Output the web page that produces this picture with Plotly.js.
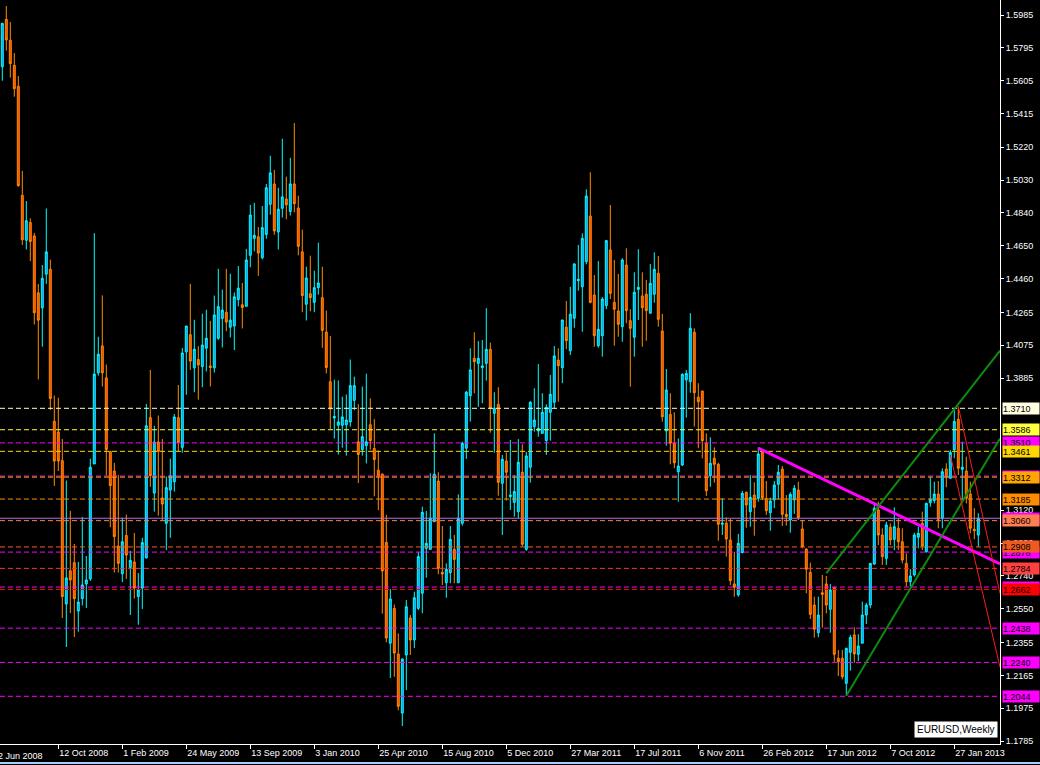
<!DOCTYPE html>
<html><head><meta charset="utf-8">
<script src="https://cdn.plot.ly/plotly-3.0.1.min.js"></script>
<style>html,body{margin:0;padding:0;background:#000;overflow:hidden}#chart{width:1040px;height:765px}</style>
</head><body><div id="chart"></div>
<script>
// EURUSD weekly candles, first week 6 Jul 2008
const firstWeekUTC = Date.UTC(2008, 6, 6);
const openP = [1.5686,1.5960,1.5839,1.5694,1.5573,1.4942,1.4682,1.4785,1.4707,1.4378,
1.4291,1.4486,1.4514,1.3635,1.3573,1.3407,1.2578,1.2770,1.2817,1.2537,
1.2609,1.2694,1.2723,1.3388,1.3915,1.4071,1.3886,1.3460,1.3347,1.2913,
1.2753,1.2974,1.2789,1.2821,1.2621,1.2670,1.2844,1.3656,1.3220,1.3515,
1.3191,1.3045,1.3237,1.3285,1.3656,1.3484,1.4036,1.4136,1.3944,1.3992,
1.3951,1.4058,1.3955,1.3944,1.4115,1.4230,1.4266,1.4179,1.4186,1.4339,
1.4309,1.4300,1.4595,1.4693,1.4702,1.4581,1.4716,1.4890,1.5008,1.4730,
1.4867,1.4921,1.4849,1.5008,1.4869,1.4615,1.4312,1.4373,1.4323,1.4408,
1.4350,1.4151,1.3864,1.3654,1.3612,1.3612,1.3615,1.3631,1.3756,1.3516,
1.3471,1.3494,1.3615,1.3477,1.3352,1.3329,1.2934,1.2351,1.2552,1.2288,
1.1947,1.2283,1.2497,1.2370,1.2553,1.2640,1.2900,1.2894,1.3054,1.3289,
1.2761,1.2701,1.2759,1.2894,1.2701,1.3045,1.3479,1.3783,1.3999,1.3970,
1.3945,1.3970,1.4051,1.3681,1.3733,1.3276,1.3405,1.3199,1.3166,1.3112,
1.3340,1.2894,1.3369,1.3604,1.3579,1.3565,1.3523,1.3687,1.3745,1.3989,
1.3945,1.4179,1.4043,1.4231,1.4448,1.4413,1.4558,1.4822,1.4365,1.4072,
1.4130,1.4304,1.4626,1.4323,1.4273,1.4182,1.4539,1.4217,1.4121,1.4398,
1.4360,1.4370,1.4260,1.4370,1.4491,1.4157,1.3579,1.3675,1.3508,1.3343,
1.3382,1.3874,1.3864,1.4150,1.3774,1.3810,1.3508,1.3320,1.3421,1.3386,
1.3039,1.3045,1.2948,1.2694,1.2630,1.2875,1.3224,1.3112,1.3208,1.3189,
1.3459,1.3189,1.3106,1.3180,1.3270,1.3359,1.3097,1.3064,1.3180,1.3237,
1.3012,1.2896,1.2761,1.2572,1.2412,1.2643,1.2694,1.2547,1.2675,1.2264,
1.2264,1.2119,1.2298,1.2399,1.2287,1.2351,1.2514,1.2572,1.2809,1.3122,
1.2977,1.2842,1.3022,1.2952,1.3016,1.2938,1.2813,1.2707,1.2746,1.2964,
1.3045,1.2880,1.3164,1.3176,1.3214,1.3074,1.3359,1.3305,1.3469,1.3646,
1.3357,1.3347,1.3214,1.3010,1.2977];
const highP = [1.5939,1.6037,1.5945,1.5765,1.5632,1.5083,1.4909,1.4809,1.4725,1.4429,
1.4539,1.4866,1.4570,1.3784,1.3771,1.3532,1.3292,1.3117,1.2925,1.2821,
1.3081,1.2856,1.3419,1.4723,1.4124,1.4363,1.3963,1.3465,1.3394,1.3324,
1.3077,1.3096,1.2885,1.2989,1.2757,1.2961,1.3735,1.3932,1.3609,1.3668,
1.3532,1.3316,1.3419,1.3677,1.3845,1.4059,1.4186,1.4430,1.4222,1.4070,
1.4257,1.4280,1.4216,1.4362,1.4517,1.4396,1.4517,1.4488,1.4380,1.4533,
1.4435,1.4632,1.4887,1.4899,1.4759,1.4880,1.5008,1.5171,1.5089,1.4986,
1.5269,1.5050,1.5159,1.5360,1.4940,1.4743,1.4529,1.4593,1.4506,1.4668,
1.4529,1.4275,1.4129,1.3875,1.3871,1.3777,1.3790,1.3992,1.3893,1.3734,
1.3836,1.3910,1.3768,1.3647,1.3466,1.3334,1.3094,1.2665,1.2575,1.2408,
1.2260,1.2601,1.2514,1.2649,1.2880,1.3141,1.3116,1.3334,1.3565,1.3340,
1.3029,1.2813,1.3029,1.2977,1.3212,1.3517,1.3810,1.4057,1.4150,1.4099,
1.4105,1.4289,1.4090,1.3803,1.3832,1.3440,1.3455,1.3527,1.3324,1.3532,
1.3502,1.3459,1.3752,1.3826,1.3966,1.3797,1.3733,1.3903,1.4070,1.4057,
1.4221,1.4331,1.4413,1.4549,1.4655,1.4722,1.4977,1.5075,1.4481,1.4562,
1.4354,1.4684,1.4886,1.4568,1.4487,1.4578,1.4636,1.4283,1.4497,1.4630,
1.4497,1.4452,1.4545,1.4612,1.4591,1.4256,1.3937,1.3797,1.3687,1.3536,
1.3912,1.3932,1.4260,1.4173,1.3855,1.3810,1.3565,1.3542,1.3484,1.3395,
1.3189,1.3079,1.3070,1.2880,1.2983,1.3232,1.3228,1.3324,1.3282,1.3484,
1.3469,1.3289,1.3193,1.3289,1.3382,1.3376,1.3208,1.3224,1.3266,1.3285,
1.3064,1.2900,1.2817,1.2620,1.2620,1.2746,1.2740,1.2694,1.2675,1.2312,
1.2312,1.2322,1.2399,1.2443,1.2403,1.2591,1.2585,1.2813,1.3151,1.3170,
1.3016,1.3054,1.3045,1.3137,1.3074,1.3016,1.2871,1.2780,1.2990,1.3025,
1.3112,1.3164,1.3311,1.3285,1.3289,1.3363,1.3392,1.3469,1.3700,1.3720,
1.3517,1.3430,1.3285,1.3132,1.3103];
const lowP = [1.5605,1.5779,1.5623,1.5513,1.4992,1.4655,1.4629,1.4562,1.4195,1.3877,
1.4066,1.4430,1.3700,1.3261,1.3347,1.2497,1.2329,1.2526,1.2387,1.2418,
1.2569,1.2555,1.2711,1.3388,1.3899,1.3836,1.3321,1.3022,1.2760,1.2760,
1.2705,1.2723,1.2514,1.2609,1.2458,1.2549,1.2844,1.3256,1.3112,1.3089,
1.3058,1.2890,1.2961,1.3228,1.3460,1.3453,1.3788,1.3932,1.3803,1.3760,
1.3832,1.3923,1.3836,1.3917,1.4106,1.4062,1.4156,1.4120,1.4047,1.4300,
1.4172,1.4300,1.4526,1.4618,1.4476,1.4572,1.4691,1.4830,1.4714,1.4629,
1.4814,1.4803,1.4825,1.4844,1.4595,1.4266,1.4218,1.4271,1.4266,1.4367,
1.4060,1.3912,1.3590,1.3535,1.3443,1.3482,1.3436,1.3604,1.3699,1.3277,
1.3436,1.3391,1.3471,1.3201,1.3121,1.2522,1.2356,1.2150,1.2157,1.1963,
1.1872,1.2080,1.2283,1.2323,1.2543,1.2524,1.2730,1.2894,1.3054,1.2750,
1.2688,1.2614,1.2698,1.2698,1.2701,1.3031,1.3417,1.3633,1.3797,1.3719,
1.3739,1.3870,1.3569,1.3453,1.3204,1.2977,1.3176,1.3122,1.3083,1.3074,
1.2909,1.2886,1.3280,1.3575,1.3546,1.3565,1.3440,1.3523,1.3710,1.3748,
1.3855,1.4053,1.4018,1.4176,1.4390,1.4153,1.4543,1.4317,1.4066,1.4061,
1.4009,1.4283,1.4342,1.4072,1.4124,1.4095,1.4202,1.3835,1.4009,1.4221,
1.4066,1.4101,1.4260,1.4321,1.4182,1.3633,1.3494,1.3386,1.3363,1.3170,
1.3376,1.3656,1.3800,1.3604,1.3479,1.3421,1.3203,1.3256,1.3280,1.2944,
1.2977,1.2852,1.2688,1.2620,1.2620,1.2871,1.3019,1.3025,1.2973,1.3170,
1.3180,1.3093,1.3002,1.3132,1.3184,1.3029,1.3031,1.2990,1.3099,1.3064,
1.2900,1.2640,1.2491,1.2383,1.2385,1.2441,1.2524,1.2412,1.2244,1.2161,
1.2142,1.2047,1.2192,1.2238,1.2248,1.2351,1.2462,1.2553,1.2804,1.2919,
1.2804,1.2804,1.2919,1.2890,1.2890,1.2813,1.2678,1.2678,1.2736,1.2900,
1.2890,1.2875,1.3141,1.3160,1.3016,1.3016,1.3253,1.3305,1.3421,1.3324,
1.3170,1.3160,1.2987,1.2952,1.2909];
const closeP = [1.5937,1.5841,1.5704,1.5559,1.4998,1.4685,1.4795,1.4675,1.4263,1.4220,
1.4462,1.4615,1.3767,1.3405,1.3405,1.2621,1.2729,1.2717,1.2609,1.2589,
1.2688,1.2717,1.3369,1.3908,1.4023,1.3915,1.3472,1.3263,1.2968,1.2813,
1.2938,1.2861,1.2830,1.2670,1.2659,1.2933,1.3609,1.3321,1.3515,1.3460,
1.3156,1.3251,1.3321,1.3660,1.3513,1.4030,1.4186,1.3983,1.4052,1.3961,
1.4076,1.4115,1.3946,1.4250,1.4298,1.4278,1.4209,1.4220,1.4355,1.4405,
1.4293,1.4568,1.4828,1.4711,1.4608,1.4755,1.4986,1.5072,1.4736,1.4862,
1.4933,1.4887,1.5008,1.4894,1.4647,1.4362,1.4464,1.4350,1.4408,1.4435,
1.4161,1.3946,1.3706,1.3663,1.3631,1.3660,1.3642,1.3841,1.3841,1.3443,
1.3546,1.3516,1.3523,1.3414,1.3318,1.2769,1.2381,1.2607,1.2294,1.1986,
1.2260,1.2562,1.2370,1.2614,1.2852,1.3108,1.2929,1.3074,1.3328,1.2784,
1.2751,1.2779,1.2952,1.2836,1.3074,1.3508,1.3803,1.3932,1.3980,1.3999,
1.3955,1.4051,1.3710,1.3710,1.3282,1.3415,1.3340,1.3208,1.3228,1.3398,
1.2923,1.3434,1.3745,1.3642,1.3594,1.3687,1.3716,1.3791,1.4013,1.3956,
1.4221,1.4101,1.4254,1.4545,1.4456,1.4693,1.4938,1.4323,1.4130,1.4167,
1.4342,1.4680,1.4375,1.4283,1.4196,1.4568,1.4275,1.4173,1.4381,1.4410,
1.4292,1.4275,1.4433,1.4514,1.4225,1.3661,1.3816,1.3508,1.3395,1.3376,
1.3907,1.3912,1.4173,1.3800,1.3748,1.3523,1.3233,1.3392,1.3386,1.3039,
1.3045,1.2954,1.2713,1.2675,1.2929,1.3218,1.3151,1.3195,1.3137,1.3446,
1.3193,1.3118,1.3174,1.3266,1.3340,1.3097,1.3083,1.3212,1.3247,1.3077,
1.2909,1.2779,1.2518,1.2432,1.2514,1.2634,1.2572,1.2659,1.2287,1.2244,
1.2157,1.2322,1.2385,1.2289,1.2335,1.2514,1.2572,1.2813,1.3132,1.2977,
1.2852,1.3035,1.2948,1.3025,1.2938,1.2832,1.2707,1.2740,1.2977,1.2987,
1.2913,1.3160,1.3184,1.3214,1.3068,1.3343,1.3314,1.3455,1.3633,1.3363,
1.3369,1.3189,1.3016,1.3002,1.3074];

// time axis labels (MT4 style)
const tickDates = ['2008-10-12','2009-02-01','2009-05-24','2009-09-13','2010-01-03','2010-04-25','2010-08-15','2010-12-05','2011-03-27','2011-07-17','2011-11-06','2012-02-26','2012-06-17','2012-10-07','2013-01-27'];
const tickLabels = ['12 Oct 2008','1 Feb 2009','24 May 2009','13 Sep 2009','3 Jan 2010','25 Apr 2010','15 Aug 2010','5 Dec 2010','27 Mar 2011','17 Jul 2011','6 Nov 2011','26 Feb 2012','17 Jun 2012','7 Oct 2012','27 Jan 2013'];
const clippedFirstLabel = '22 Jun 2008';

// price scale ticks (the ones not hidden by price boxes)
const priceTicks = [1.5985,1.5795,1.5605,1.5415,1.5220,1.5030,1.4840,1.4650,1.4460,1.4265,1.4075,1.3885,1.3120,1.2930,1.2740,1.2550,1.2355,1.2165,1.1975,1.1785];

// horizontal levels with price boxes
const levelPrices = [1.3710,1.3586,1.3510,1.3461,1.3318,1.3312,1.3185,1.3074,1.3060,1.2878,1.2908,1.2784,1.2676,1.2662,1.2438,1.2240,1.2044];
const levelLineColors = ['#ffffe0','#ffff40','#ff00ff','#ffd700','#ff00ff','#ffa500','#ff8c00','#b070e0','#ff7f50','#ff00ff','#ff5a1a','#ff3030','#ff00ff','#ff0000','#ff00ff','#ff00ff','#ff00ff'];
const levelBoxColors = ['#ffffe0','#ffff40','#ff00ff','#ffd700','#ff00ff','#ffa500','#ff8c00','#ff00ff','#ff7f50','#ff00ff','#f05a20','#ff4040','#ff00ff','#ff0000','#ff00ff','#ff00ff','#ff00ff'];
const levelDash = ['5px,3px','5px,3px','5px,3px','5px,3px','5px,3px','5px,3px','5px,3px','solid','5px,3px','5px,3px','5px,3px','5px,3px','5px,3px','5px,3px','5px,3px','5px,3px','5px,3px'];

// trend lines (rays to right edge)
const trendStartDates = ['2012-02-19','2012-06-17','2012-07-22','2013-02-03','2013-01-20'];
const trendStartPrices = [1.3480,1.2757,1.2047,1.3720,1.3440];
const trendEndPrices = [1.2810,1.4043,1.3535,1.2639,1.2213];
const trendColors = ['#ff00ff','#0c8c0c','#0c8c0c','#ff1a1a','#ff1a1a'];
const trendWidths = [3,2,2,1,1];

const xStart = '2008-07-01 23:24';
const xEnd = '2013-04-16 23:24';

const weeks = openP.map((_, i) => new Date(firstWeekUTC + i * 7 * 86400000).toISOString().slice(0, 10));

const trace = {
  type: 'candlestick', x: weeks, open: openP, high: highP, low: lowP, close: closeP,
  increasing: {line: {color: '#00ffff', width: 1}, fillcolor: '#1e90ff'},
  decreasing: {line: {color: '#ff8c00', width: 1}, fillcolor: '#ff4500'},
  whiskerwidth: 0, hoverinfo: 'skip'
};

const shapes = [];
levelPrices.forEach((p, k) => {
  shapes.push({type: 'line', xref: 'paper', yref: 'y', x0: 0, x1: 1, y0: p, y1: p,
    line: {color: levelLineColors[k], width: 1, dash: levelDash[k]}, layer: 'above'});
});
trendStartDates.forEach((d, k) => {
  shapes.push({type: 'line', xref: 'x', yref: 'y', x0: d, x1: xEnd, y0: trendStartPrices[k], y1: trendEndPrices[k],
    line: {color: trendColors[k], width: trendWidths[k]}, layer: 'above'});
});
shapes.push({type: 'line', xref: 'paper', yref: 'paper', x0: 0, x1: 1.04, y0: -0.0255, y1: -0.0255,
  line: {color: '#a8d0f8', width: 2}});

const annotations = [];
levelPrices.forEach((p, k) => {
  annotations.push({xref: 'paper', yref: 'y', x: 1, xshift: 2, y: p, xanchor: 'left', yanchor: 'middle',
    text: p.toFixed(4), showarrow: false, bgcolor: levelBoxColors[k], borderpad: 0,
    width: 36, height: 11, align: 'left', font: {color: '#000', size: 9, family: 'Liberation Sans, Arial, sans-serif'}});
});
annotations.push({xref: 'paper', yref: 'paper', x: -0.009, y: 0, yshift: -5, xanchor: 'left', yanchor: 'top',
  text: clippedFirstLabel, showarrow: false, font: {color: '#fff', size: 9}});
annotations.push({xref: 'paper', yref: 'paper', x: 0.998, y: 0.008, xanchor: 'right', yanchor: 'bottom',
  text: 'EURUSD,Weekly', showarrow: false, bgcolor: '#ffffff', borderpad: 2,
  font: {color: '#000', size: 10, family: 'Liberation Sans, Arial, sans-serif'}});

const layout = {
  width: 1040, height: 765,
  margin: {l: 0, r: 40, t: 0, b: 21, pad: 0},
  paper_bgcolor: '#000', plot_bgcolor: '#000',
  font: {family: 'Liberation Sans, Arial, sans-serif', size: 9, color: '#fff'},
  showlegend: false,
  xaxis: {type: 'date', range: [xStart, xEnd], rangeslider: {visible: false}, showgrid: false, zeroline: false,
    showline: true, linecolor: '#fff', linewidth: 1, ticks: 'outside', ticklen: 4, tickcolor: '#fff',
    tickvals: tickDates, ticktext: tickLabels, ticklabelposition: 'outside right', fixedrange: true},
  yaxis: {side: 'right', range: [1.1768, 1.6072], showgrid: false, zeroline: false, showline: true,
    linecolor: '#fff', linewidth: 1, ticks: 'outside', ticklen: 3, tickcolor: '#fff',
    tickvals: priceTicks, ticktext: priceTicks.map(v => v.toFixed(4)), fixedrange: true},
  shapes: shapes, annotations: annotations
};

Plotly.newPlot('chart', [trace], layout, {staticPlot: true, displayModeBar: false});
</script></body></html>
